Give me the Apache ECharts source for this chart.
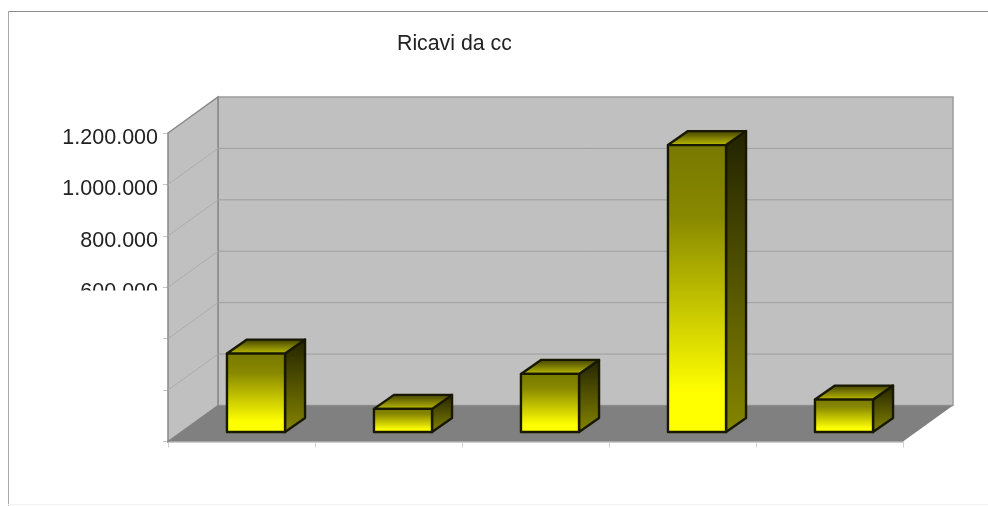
<!DOCTYPE html>
<html>
<head>
<meta charset="utf-8">
<style>html,body{margin:0;padding:0;background:#fff}#c{width:988px;height:506px}</style>
<script src="https://cdn.jsdelivr.net/npm/echarts@6/dist/echarts.min.js"></script>
</head>
<body>
<div id="c"></div>
<script>
const titleText = 'Ricavi da cc';
const categories = ['1', '2', '3', '4', '5'];
const values = [305000, 90000, 226000, 1116000, 126000];
const gridValues = [0, 200000, 400000, 600000, 800000, 1000000, 1200000];
const visibleLabels = [600000, 800000, 1000000, 1200000];

const WALL_DX = 50, WALL_DY = -36;
const BAR_DX = 14.5, BAR_DY = -9.5;
const BOX_DX = 20, BOX_DY = -14;
const BAR_RATIO = 0.395;
const EDGE = '#181800';
const grad = (x2, y2, stops) => new echarts.graphic.LinearGradient(0, 0, x2, y2,
  stops.map(s => ({ offset: s[0], color: s[1] })));

function renderWalls(params, api) {
  const cs = params.coordSys;
  const L = cs.x, R = cs.x + cs.width, T = cs.y, B = cs.y + cs.height;
  const children = [];
  children.push({ type: 'polygon', shape: { points: [[L + WALL_DX, T + WALL_DY], [R + WALL_DX, T + WALL_DY], [R + WALL_DX, B + WALL_DY], [L + WALL_DX, B + WALL_DY]] },
    style: { fill: '#c0c0c0', stroke: '#9c9c9c', lineWidth: 1.5 } });
  children.push({ type: 'polygon', shape: { points: [[L, T], [L + WALL_DX, T + WALL_DY], [L + WALL_DX, B + WALL_DY], [L, B]] },
    style: { fill: '#c0c0c0', stroke: '#888888', lineWidth: 1.5 } });
  gridValues.slice(1, -1).forEach(v => {
    const y = api.coord([0, v])[1];
    children.push({ type: 'line', shape: { x1: L, y1: y, x2: L + WALL_DX, y2: y + WALL_DY }, style: { stroke: '#acacac', lineWidth: 1 } });
    children.push({ type: 'line', shape: { x1: L + WALL_DX, y1: y + WALL_DY, x2: R + WALL_DX, y2: y + WALL_DY }, style: { stroke: '#9e9e9e', lineWidth: 1 } });
  });
  children.push({ type: 'polygon', shape: { points: [[L, B], [L + WALL_DX, B + WALL_DY], [R + WALL_DX, B + WALL_DY], [R, B]] }, style: { fill: '#808080' } });
  return { type: 'group', children };
}

function renderBar(params, api) {
  const i = api.value(0), v = api.value(1);
  const top = api.coord([i, v]), base = api.coord([i, 0]);
  const w = api.size([1, 0])[0] * BAR_RATIO;
  const x0 = top[0] + BAR_DX - w / 2, x1 = x0 + w;
  const yT = top[1] + BAR_DY, yB = base[1] + BAR_DY;
  const stroke = { stroke: EDGE, lineWidth: 2.4, lineJoin: 'round' };
  return { type: 'group', children: [
    { type: 'polygon', shape: { points: [[x1, yT], [x1 + BOX_DX, yT + BOX_DY], [x1 + BOX_DX, yB + BOX_DY], [x1, yB]] },
      style: Object.assign({ fill: grad(0, 1, [[0, '#222200'], [1, '#868600']]) }, stroke) },
    { type: 'polygon', shape: { points: [[x0, yT], [x0 + BOX_DX, yT + BOX_DY], [x1 + BOX_DX, yT + BOX_DY], [x1, yT]] },
      style: Object.assign({ fill: grad(0, 1, [[0, '#3a3a00'], [1, '#c4c400']]) }, stroke) },
    { type: 'rect', shape: { x: x0, y: yT, width: w, height: yB - yT },
      style: Object.assign({ fill: grad(0, 1, [[0, '#787800'], [0.25, '#888800'], [0.86, '#ffff00'], [1, '#ffff00']]) }, stroke) }
  ] };
}

const chart = echarts.init(document.getElementById('c'), null, { renderer: 'canvas' });
chart.setOption({
  animation: false,
  backgroundColor: '#fff',
  grid: { left: 168, right: 85, top: 133, bottom: 64.5, containLabel: false },
  xAxis: { type: 'category', data: categories,
    axisLine: { show: true, lineStyle: { color: '#bdbdbd', width: 1.5 } },
    axisTick: { show: true, length: 6, lineStyle: { color: '#d0d0d0' } },
    axisLabel: { show: false }, splitLine: { show: false } },
  yAxis: { type: 'value', min: 0, max: 1200000, interval: 200000,
    axisLine: { show: false },
    axisTick: { show: true, length: 5, lineStyle: { color: '#c4c4c4' } },
    splitLine: { show: false },
    axisLabel: { show: true, margin: 10, color: '#222', fontSize: 21.5, fontFamily: 'Liberation Sans',
      verticalAlign: 'top', lineHeight: 10,
      formatter: v => visibleLabels.includes(v) ? String(v).replace(/\B(?=(\d{3})+$)/g, '.') : '' } },
  series: [
    { type: 'custom', name: 'walls', z: 1, silent: true, clip: false, renderItem: renderWalls, data: [[0, 0]] },
    { type: 'custom', name: 'Ricavi', z: 3, clip: false, renderItem: renderBar,
      encode: { x: 0, y: 1 }, data: values.map((v, i) => [i, v]) }
  ],
  graphic: [
    { type: 'text', z: 50, left: 397, top: 34, style: { text: titleText, fill: '#222', font: '21.3px "Liberation Sans"' } },
    { type: 'rect', z: 51, shape: { x: 511, y: 25, width: 30, height: 35 }, style: { fill: '#fff' } },
    { type: 'rect', z: 51, shape: { x: 40, y: 290.5, width: 120, height: 30 }, style: { fill: '#fff' } },
    { type: 'line', z: 52, shape: { x1: 8, y1: 11.5, x2: 988, y2: 11.5 }, style: { stroke: '#8c8c8c', lineWidth: 1 } },
    { type: 'line', z: 52, shape: { x1: 8.5, y1: 11, x2: 8.5, y2: 506 }, style: { stroke: '#a8a8a8', lineWidth: 1 } },
    { type: 'line', z: 52, shape: { x1: 8, y1: 504.5, x2: 988, y2: 504.5 }, style: { stroke: '#f2f2f2', lineWidth: 1 } }
  ]
});
</script>
</body>
</html>
